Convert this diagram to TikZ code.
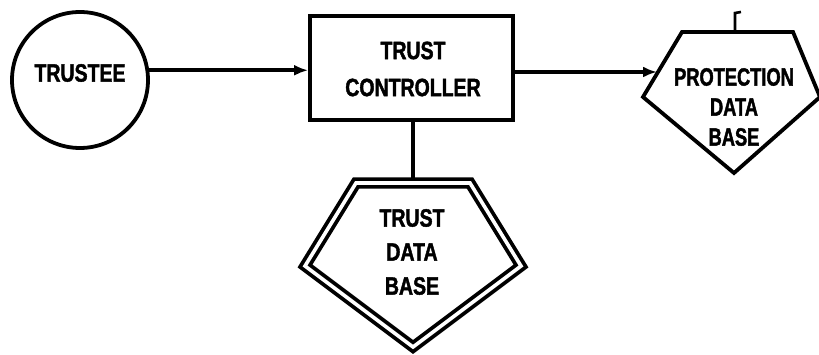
\documentclass[tikz,border=0pt]{standalone}
\usepackage{fontspec}
\newfontfamily\lblfont[FakeStretch=0.78,FakeBold=1.6]{Liberation Sans}
\newfontfamily\lblnarrow[FakeStretch=0.73,FakeBold=1.6]{Liberation Sans}
\usetikzlibrary{arrows.meta}
\begin{document}
\begin{tikzpicture}[x=1pt,y=1pt,
  outline/.style={draw=black,line width=3.8pt,line join=miter},
  conn/.style={draw=black,line width=3.8pt},
  arrowconn/.style={conn,-{Latex[length=14pt,width=11pt]}},
  label/.style={font=\lblfont\bfseries\fontsize{25}{36}\selectfont,align=center,inner sep=0pt},
  dbline/.style={draw=black,line width=3.8pt,double=white,double distance=3.6pt,line join=miter}]
\useasboundingbox (0,0) rectangle (819,355);

% trustee
\node[outline,circle,minimum size=136pt,inner sep=0pt] (trustee) at (80,275) {};
\node[label] (trusteetxt) at (80,282) {TRUSTEE};

% trust controller
\node[outline,rectangle,minimum width=203pt,minimum height=104pt,inner sep=0pt] (ctrl) at (411.5,287) {};
\node[label,font=\lblfont\bfseries\fontsize{25}{37}\selectfont] (ctrltxt) at (413,286) {TRUST\\CONTROLLER};

% trust data base (double-lined pentagon)
\coordinate (tdbTL) at (356,172);
\coordinate (tdbTR) at (470,172);
\coordinate (tdbR) at (521,89);
\coordinate (tdbB) at (413,8);
\coordinate (tdbL) at (305,89);
\path[dbline] (tdbTL) -- (tdbTR) -- (tdbR) -- (tdbB) -- (tdbL) -- cycle;
\coordinate (tdbtop) at (413,176);
\node[label,font=\lblfont\bfseries\fontsize{25}{34}\selectfont] (tdbtxt) at (412,103) {TRUST\\DATA\\BASE};

% protection data base (pentagon)
\coordinate (pdbTL) at (682,323);
\coordinate (pdbTR) at (793,323);
\coordinate (pdbR) at (820,258);
\coordinate (pdbB) at (734,182);
\coordinate (pdbL) at (643,258);
\path[outline] (pdbTL) -- (pdbTR) -- (pdbR) -- (pdbB) -- (pdbL) -- cycle;
\coordinate (pdbin) at (657,283);
\node[label,font=\lblnarrow\bfseries\fontsize{25}{30}\selectfont] (pdbtxt) at (734,248) {PROTECTION\\DATA\\BASE};

% short mark above the protection data base
\coordinate (pdbtick) at (735,342);
\draw[line width=2.6pt] (735,323) -- (pdbtick) -- ++(6,1);

% connectors
\draw[arrowconn] (trustee.8) -- (trustee.8 -| ctrl.west);
\draw[arrowconn] (ctrl.east |- pdbin) -- (pdbin);
\draw[conn] (ctrl.south -| tdbtop) -- (tdbtop);
\end{tikzpicture}
\end{document}
